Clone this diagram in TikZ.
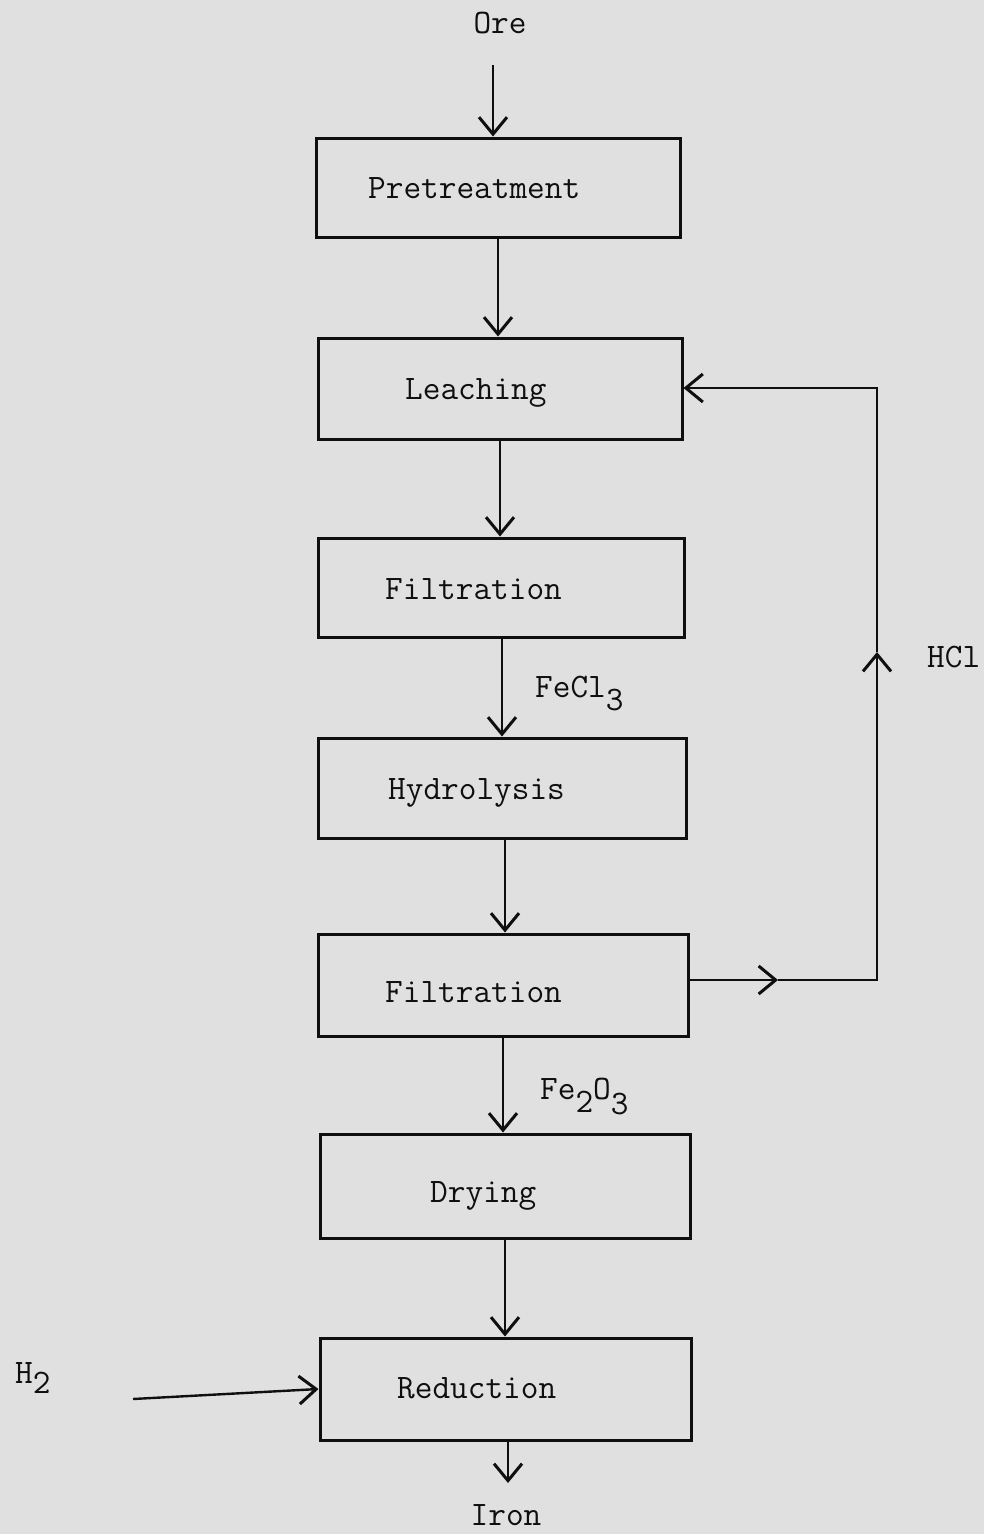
\documentclass[tikz,border=0pt]{standalone}
\usetikzlibrary{arrows.meta}
\definecolor{paper}{RGB}{224,224,224}
\definecolor{ink}{RGB}{15,15,15}
\begin{document}
\begin{tikzpicture}[x=1pt,y=-1pt,
  box/.style={draw=ink, line width=3pt, rectangle, inner sep=0pt},
  lbl/.style={font=\ttfamily\fontsize{34.3}{40}\selectfont, text=ink, anchor=base west, inner sep=0pt},
  arr/.style={draw=ink, line width=2.4pt, -{Straight Barb[length=17pt,width=28pt,line width=3pt]}},
  ln/.style={draw=ink, line width=2.4pt}]
\useasboundingbox (0,0) rectangle (984,1534);
\fill[paper] (0,0) rectangle (984,1534);

% boxes
\node[box, minimum width=364pt, minimum height=99pt]  (pre)   at (498,187.5) {};
\node[box, minimum width=364pt, minimum height=101pt] (leach) at (500,388.5) {};
\node[box, minimum width=366pt, minimum height=99pt]  (filt1) at (501,587.5) {};
\node[box, minimum width=368pt, minimum height=100pt] (hydro) at (502,788) {};
\node[box, minimum width=370pt, minimum height=102pt] (filt2) at (503,985) {};
\node[box, minimum width=370pt, minimum height=104pt] (dry)   at (505,1186) {};
\node[box, minimum width=371pt, minimum height=102pt] (red)   at (505.5,1389) {};

% box texts
\node[lbl] (preT)   at (368,198)  {Pretreatment};
\node[lbl] (leachT) at (405,399)  {Leaching};
\node[lbl] (filt1T) at (385,599)  {Filtration};
\node[lbl] (hydroT) at (388,799)  {Hydrolysis};
\node[lbl] (filt2T) at (385,1002) {Filtration};
\node[lbl] (dryT)   at (430,1202) {Drying};
\node[lbl] (redT)   at (397,1398) {Reduction};

% free labels
\node[lbl, anchor=base] (ore)  at (500,33)   {Ore};
\node[lbl, anchor=base] (iron) at (506,1525) {Iron};
\node[lbl] (fecl) at (535,697)  {FeCl\raisebox{-13pt}{3}};
\node[lbl] (feo)  at (540,1099) {Fe\raisebox{-13pt}{2}O\raisebox{-15pt}{3}};
\node[lbl] (hcl)  at (927,667)  {HCl};
\node[lbl] (htwo) at (15,1383)  {H\raisebox{-10pt}{2}};

% column coordinates
\coordinate (k1) at (493,0);
\coordinate (k2) at (498,0);
\coordinate (k3) at (500,0);
\coordinate (k4) at (502,0);
\coordinate (k5) at (505,0);
\coordinate (k6) at (503,0);
\coordinate (k7) at (505,0);
\coordinate (k8) at (508,0);
\coordinate (oreEnd) at (493,65);
\coordinate (ironEnd) at (508,1483);

% main flow
\draw[arr] (oreEnd) -- (pre.north -| k1);
\draw[arr] (pre.south -| k2) -- (leach.north -| k2);
\draw[arr] (leach.south -| k3) -- (filt1.north -| k3);
\draw[arr] (filt1.south -| k4) -- (hydro.north -| k4);
\draw[arr] (hydro.south -| k5) -- (filt2.north -| k5);
\draw[arr] (filt2.south -| k6) -- (dry.north -| k6);
\draw[arr] (dry.south -| k7) -- (red.north -| k7);
\draw[arr] (red.south -| k8) -- (ironEnd);

% recycle loop
\coordinate (m1) at (778,980);
\coordinate (c1) at (877,980);
\coordinate (m2) at (877,652);
\coordinate (c2) at (877,388);
\draw[arr] (c1 -| filt2.east) -- (m1);
\draw[arr] (m1) -- (c1) -- (m2);
\draw[arr] (m2) -- (c2) -- (c2 -| leach.east);

% hydrogen feed
\coordinate (hs) at (133,1399);
\draw[arr] (hs) -- (red.west);
\end{tikzpicture}
\end{document}
